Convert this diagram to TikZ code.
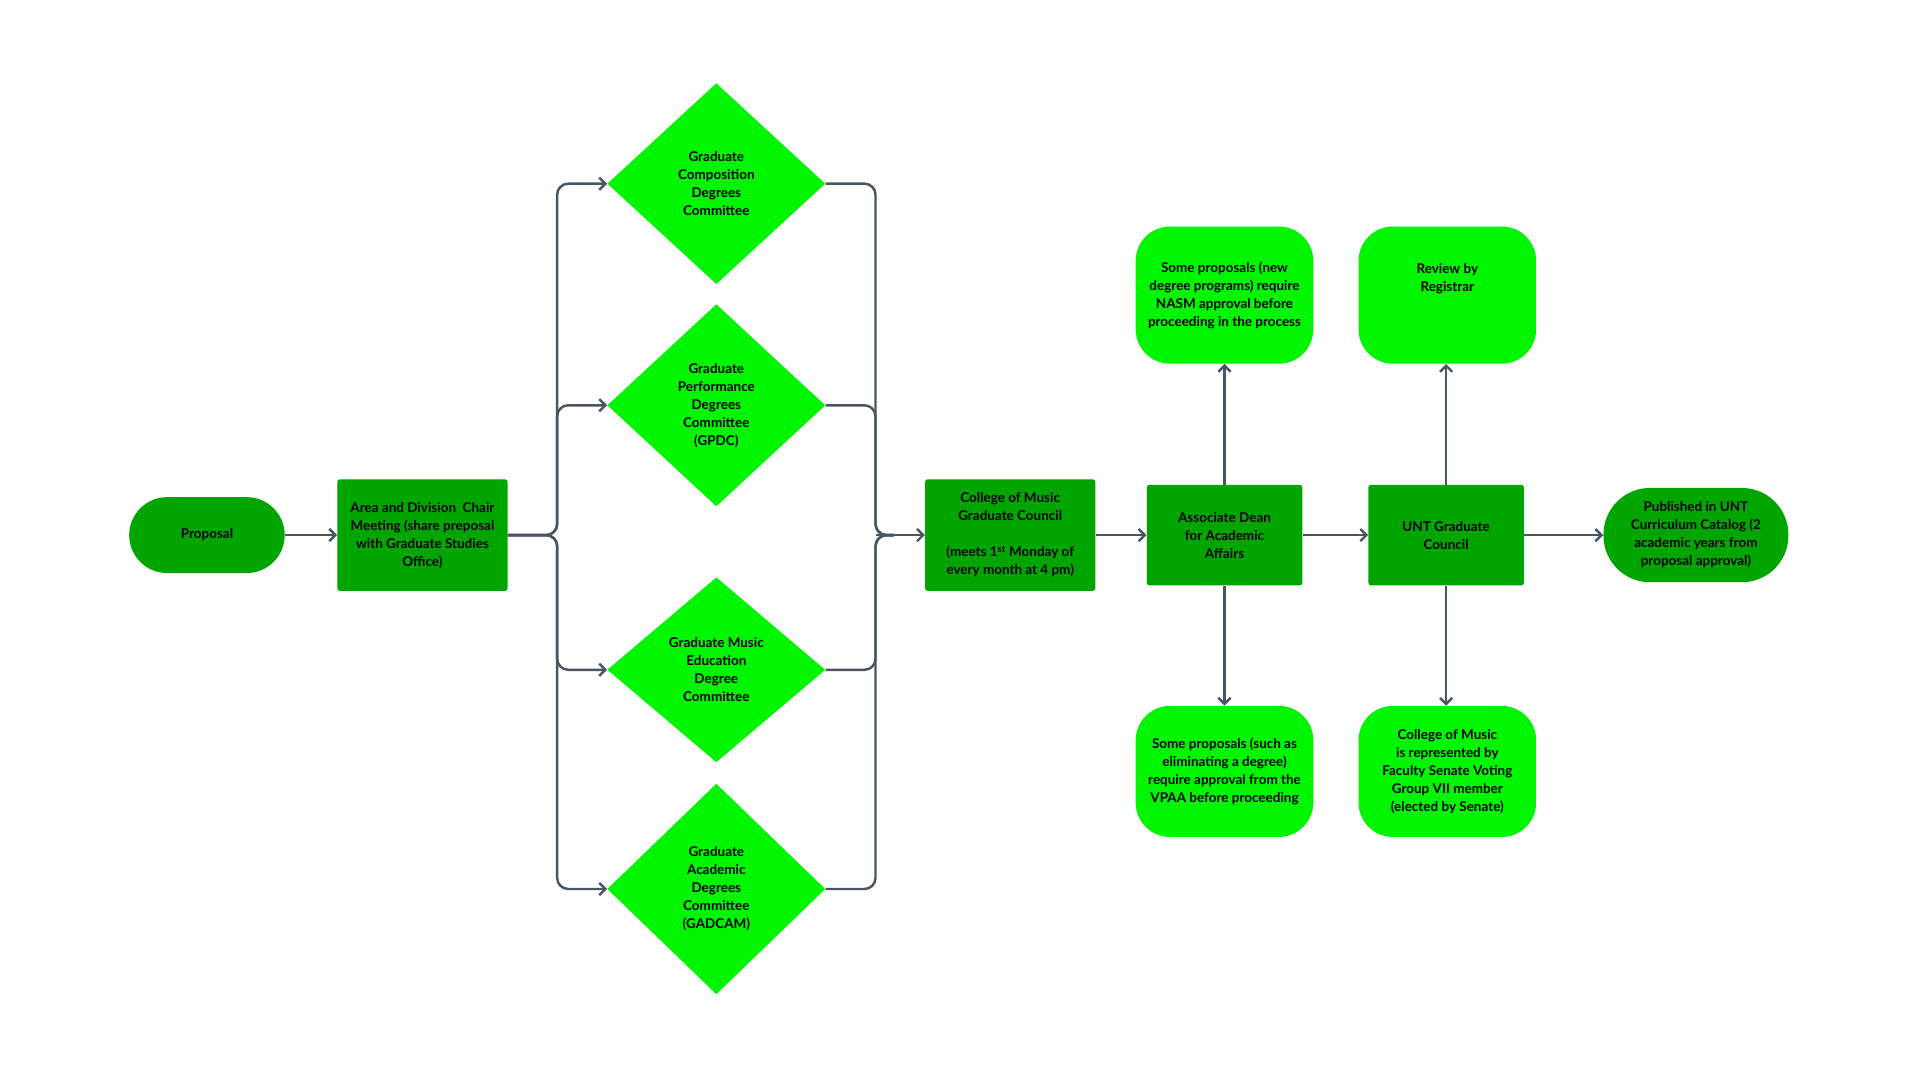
\documentclass[tikz,border=0pt]{standalone}
\usepackage{fontspec}
\setmainfont{Lato}
\usetikzlibrary{shapes.geometric,arrows.meta}
\definecolor{dg}{RGB}{0,165,0}
\definecolor{lg}{RGB}{0,245,0}
\definecolor{ln}{RGB}{74,85,99}
\begin{document}
\begin{tikzpicture}[x=1pt,y=-1pt,
  txt/.style={font=\fontsize{11}{14.7}\selectfont\bfseries,align=center,text=black},
  dbox/.style={txt,fill=dg,rounded corners=2pt,inner sep=0pt},
  lbox/.style={txt,fill=lg,rounded corners=28pt,inner sep=0pt,minimum width=145pt},
  dia/.style={txt,fill=lg,diamond,inner sep=0pt},
  con/.style={draw=ln,line width=2pt,rounded corners=9pt,-{Straight Barb[length=5pt,width=10pt]}},
  ln2/.style={draw=ln,line width=2pt,rounded corners=9pt}]
\useasboundingbox (0,0) rectangle (1568,882);
\node[txt,fill=dg,rounded corners=31pt,minimum width=127pt,minimum height=62pt] (prop) at (169,437) {Proposal};
\node[dbox,minimum width=139pt,minimum height=91pt] (area) at (345,437) {Area and Division~ Chair\\Meeting (share preposal\\with Graduate Studies\\Office)};
\node[dia,minimum width=178pt,minimum height=164pt] (d1) at (585,150) {Graduate\\Composition\\Degrees\\Committee};
\node[dia,minimum width=178pt,minimum height=165pt] (d2) at (585,331) {Graduate\\Performance\\Degrees\\Committee\\(GPDC)};
\node[dia,minimum width=178pt,minimum height=151pt] (d3) at (585,547) {Graduate Music\\Education\\Degree\\Committee};
\node[dia,minimum width=178pt,minimum height=172pt] (d4) at (585,726) {Graduate\\Academic\\Degrees\\Committee\\(GADCAM)};
\node[dbox,minimum width=139pt,minimum height=91pt] (col) at (825,437) {College of Music\\Graduate Council\\[14.7pt](meets 1\textsuperscript{st} Monday of\\every month at 4 pm)};
\node[dbox,minimum width=127pt,minimum height=82pt] (ad) at (1000,437) {Associate Dean\\for Academic\\Affairs};
\node[dbox,minimum width=127pt,minimum height=82pt] (unt) at (1181,437) {UNT Graduate\\Council};
\node[txt,fill=dg,rounded corners=38pt,minimum width=151pt,minimum height=77pt,inner sep=0pt] (pub) at (1385,437) {Published in UNT\\Curriculum Catalog (2\\academic years from\\proposal approval)};
\node[lbox,minimum height=112pt] (nasm) at (1000,241) {Some proposals (new\\degree programs) require\\NASM approval before\\proceeding in the process};
\node[lbox,minimum height=112pt] (reg) at (1182,241) {Review by\\Registrar\\[14.7pt]};
\node[lbox,minimum height=107pt] (vpaa) at (1000,630) {Some proposals (such as\\eliminating a degree)\\require approval from the\\VPAA before proceeding};
\node[lbox,minimum height=107pt] (fs) at (1182,630) {College of Music\\is represented by\\Faculty Senate Voting\\Group VII member\\(elected by Senate)};
\draw[con] (prop) -- (area);
\foreach \d in {d1,d2,d3,d4}{
  \draw[con] (area.east) -- (455,437) |- (\d.west);
  \draw[ln2] (\d.east) -| (715,437) -- (730,437);
}
\coordinate (jn) at (715,437);
\draw[con] (jn) -- (col.west);
\draw[con] (col) -- (ad);
\draw[con] (ad) -- (unt);
\draw[con] (unt) -- (pub);
\draw[con] (ad) -- (nasm);
\draw[con] (ad) -- (vpaa);
\draw[con] (unt.north) -- (unt.north|-reg.south);
\draw[con] (unt.south) -- (unt.south|-fs.north);
\end{tikzpicture}
\end{document}
